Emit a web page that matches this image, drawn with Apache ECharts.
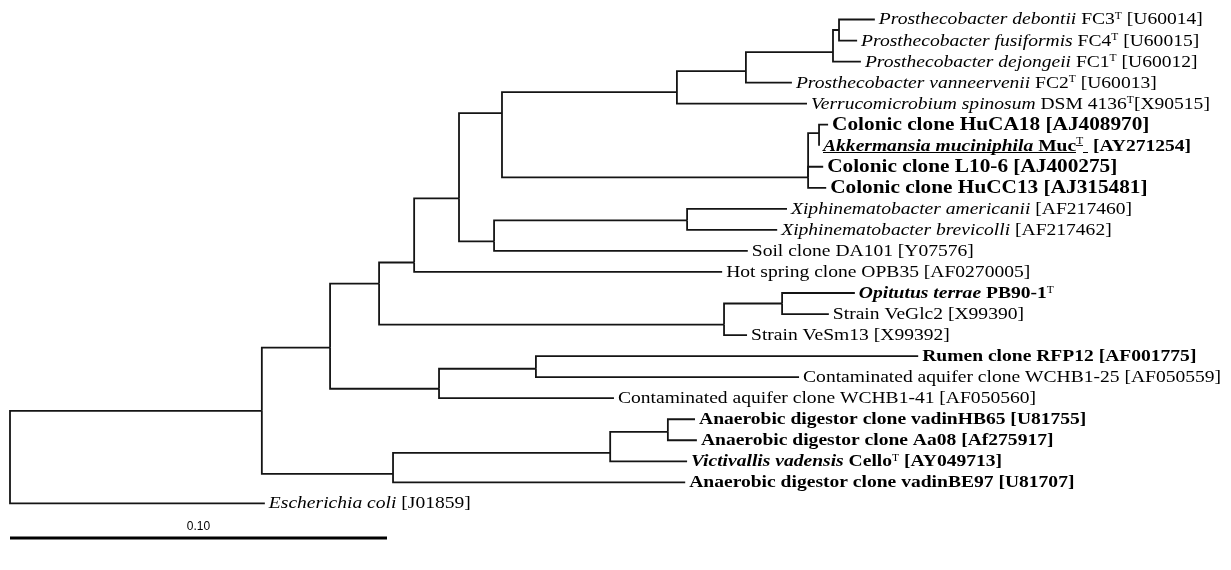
<!DOCTYPE html>
<html><head><meta charset="utf-8">
<script src="https://cdn.jsdelivr.net/npm/echarts@6/dist/echarts.min.js"></script>
<style>html,body{margin:0;padding:0;background:#fff}#c{width:1231px;height:570px}</style>
</head><body><div id="c"></div>
<script>
// Leaves (rows 0..23 top to bottom)
const leafLabels = [
  '{i|Prosthecobacter debontii} FC3{s|T} [U60014]',
  '{i|Prosthecobacter fusiformis} FC4{s|T} [U60015]',
  '{i|Prosthecobacter dejongeii} FC1{s|T} [U60012]',
  '{i|Prosthecobacter vanneervenii} FC2{s|T} [U60013]',
  '{i|Verrucomicrobium spinosum} DSM 4136{s|T}[X90515]',
  '{bc|Colonic clone HuCA18 [AJ408970]}',
  '{ubi|Akkermansia muciniphila}{ub| Muc}{us|T}{ub| }{b| [AY271254]}',
  '{bc|Colonic clone L10-6 [AJ400275]}',
  '{bc|Colonic clone HuCC13 [AJ315481]}',
  '{i|Xiphinematobacter americanii} [AF217460]',
  '{i|Xiphinematobacter brevicolli} [AF217462]',
  'Soil clone DA101 [Y07576]',
  'Hot spring clone OPB35 [AF0270005]',
  '{bi|Opitutus terrae}{b| PB90-1}{s|T}',
  'Strain VeGlc2 [X99390]',
  'Strain VeSm13 [X99392]',
  '{b|Rumen clone RFP12 [AF001775]}',
  'Contaminated aquifer clone WCHB1-25 [AF050559]',
  'Contaminated aquifer clone WCHB1-41 [AF050560]',
  '{b|Anaerobic digestor clone vadinHB65 [U81755]}',
  '{b|Anaerobic digestor clone Aa08 [Af275917]}',
  '{bi|Victivallis vadensis}{b| Cello}{s|T}{b| [AY049713]}',
  '{b|Anaerobic digestor clone vadinBE97 [U81707]}',
  '{i|Escherichia coli} [J01859]'
];
// distance from root (substitutions per site) of each leaf tip
const leafDepth = [0.2294, 0.2247, 0.2257, 0.2074, 0.2114, 0.2170, 0.2146, 0.2157, 0.2165,
  0.2061, 0.2035, 0.1957, 0.1889, 0.2241, 0.2172, 0.1955, 0.2409, 0.2093, 0.1602,
  0.1817, 0.1822, 0.1796, 0.1791, 0.0676];
const leafParent = ['K','K','J','I','H','M','M','L','L','N','N','G','D','V','V','U','P','P','O','T','T','S','Q','R'];

// Internal nodes
const nodeIds    = ['R','A','B','C','D','E','F','H','I','J','K','L','M','G','N','U','V','O','P','Q','S','T'];
const nodeParent = [null,'R','A','B','C','D','E','F','H','I','J','F','L','E','G','C','U','B','O','A','Q','S'];
const nodeDepth  = [0, 0.0668, 0.0849, 0.0979, 0.1072, 0.1191, 0.1305, 0.1769, 0.1952, 0.2183, 0.2199,
  0.2117, 0.2146, 0.1284, 0.1796, 0.1894, 0.2048, 0.1138, 0.1395, 0.1016, 0.1592, 0.1745];
const nodeRow    = [20.8, 18.6, 15.6, 12.55, 11.55, 8.5, 4.45, 3.45, 2.45, 1.55, 0.5,
  7.5, 5.4, 10.55, 9.55, 14.5, 13.5, 17.55, 16.6, 21.6, 20.6, 19.6];

const scaleBarLength = 0.10;
const scaleBarLabel = '0.10';
const scaleBarRow = 24.64;

// build branches
const idx = {}; nodeIds.forEach((n, i) => idx[n] = i);
const branches = [];
nodeIds.forEach((n, i) => {
  const p = nodeParent[i];
  if (p) { const j = idx[p]; branches.push([nodeDepth[j], nodeRow[j], nodeDepth[i], nodeRow[i]]); }
});
leafLabels.forEach((l, i) => {
  const j = idx[leafParent[i]];
  branches.push([nodeDepth[j], nodeRow[j], leafDepth[i], i]);
});
const leafPoints = leafDepth.map((d, i) => [d, i]);

// underline image for rich text
const ul = document.createElement('canvas');
ul.width = 4; ul.height = 19;
const uctx = ul.getContext('2d');
uctx.fillStyle = '#000'; uctx.fillRect(0, 16, 4, 1);

const SERIF = '"Liberation Serif", "Times New Roman", serif';
const FS = 17;
const SUP = 10;
const STRETCH = 1.15;
const rich = {
  i:  { fontFamily: SERIF, fontSize: FS, fontStyle: 'italic', color: '#000' },
  b:  { fontFamily: SERIF, fontSize: FS, fontWeight: 'bold', color: '#000' },
  bc: { fontFamily: SERIF, fontSize: 18.5, fontWeight: 'bold', color: '#000' },
  bi: { fontFamily: SERIF, fontSize: FS, fontWeight: 'bold', fontStyle: 'italic', color: '#000' },
  s:  { fontFamily: SERIF, fontSize: SUP, verticalAlign: 'top', color: '#000' },
  ubi:{ fontFamily: SERIF, fontSize: FS, fontWeight: 'bold', fontStyle: 'italic', color: '#000', lineHeight: 19, backgroundColor: { image: ul } },
  ub: { fontFamily: SERIF, fontSize: FS, fontWeight: 'bold', color: '#000', lineHeight: 19, backgroundColor: { image: ul } },
  us: { fontFamily: SERIF, fontSize: SUP, verticalAlign: 'top', color: '#000', lineHeight: 19, backgroundColor: { image: ul } }
};

const chart = echarts.init(document.getElementById('c'), null, { renderer: 'canvas' });
chart.setOption({
  animation: false,
  backgroundColor: '#fff',
  grid: { left: 10, right: 14.6, top: 19.5, bottom: 3.5 },
  xAxis: { type: 'value', min: 0, max: 0.32, show: false },
  yAxis: { type: 'value', min: 0, max: 26, inverse: true, show: false },
  series: [
    {
      type: 'custom',
      data: branches,
      encode: { x: [0, 2], y: [1, 3] },
      renderItem: (params, api) => {
        const a = api.coord([api.value(0), api.value(1)]);
        const b = api.coord([api.value(0), api.value(3)]);
        const c = api.coord([api.value(2), api.value(3)]);
        return { type: 'polyline', shape: { points: [a, b, c] },
          style: { stroke: '#141414', lineWidth: 1.8, fill: null } };
      },
      silent: true
    },
    {
      type: 'custom',
      data: leafPoints,
      encode: { x: 0, y: 1 },
      renderItem: (params, api) => {
        const p = api.coord([api.value(0), api.value(1)]);
        return {
          type: 'text', x: p[0] + 4, y: p[1] + 0.5, scaleX: STRETCH, scaleY: 1,
          style: {
            text: leafLabels[params.dataIndex],
            fontFamily: SERIF, fontSize: FS, fill: '#000',
            align: 'left', verticalAlign: 'middle', rich: rich
          }
        };
      },
      silent: true
    },
    {
      type: 'custom',
      data: [[0, scaleBarRow, scaleBarLength]],
      renderItem: (params, api) => {
        const a = api.coord([api.value(0), api.value(1)]);
        const b = api.coord([api.value(2), api.value(1)]);
        return { type: 'group', children: [
          { type: 'line', shape: { x1: a[0], y1: a[1], x2: b[0], y2: b[1] },
            style: { stroke: '#000', lineWidth: 3 } },
          { type: 'text', x: (a[0] + b[0]) / 2, y: a[1] - 5,
            style: { text: scaleBarLabel, fill: '#000', font: '12px "Liberation Sans", Arial, sans-serif',
              align: 'center', verticalAlign: 'bottom' } }
        ] };
      },
      silent: true
    }
  ]
});
</script></body></html>
